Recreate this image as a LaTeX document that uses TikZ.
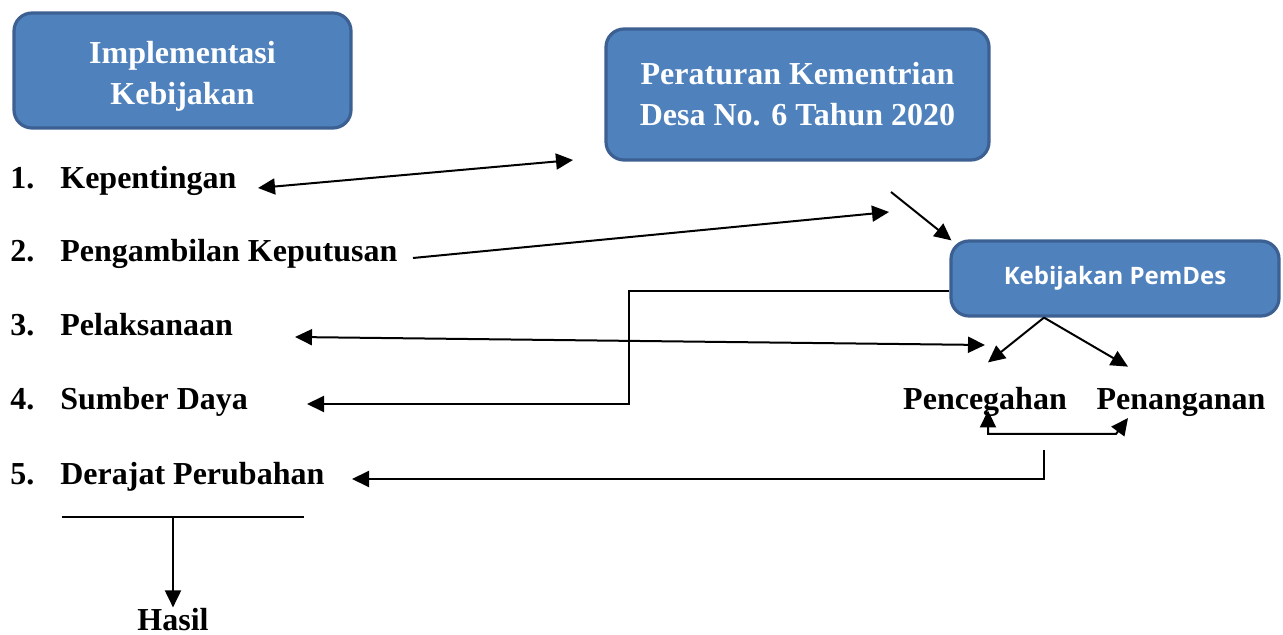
\documentclass[tikz,border=0pt]{standalone}
\usepackage{fontspec}
\setmainfont{Liberation Serif}
\newfontfamily\pemdesfont{Open Sans}
\usetikzlibrary{arrows.meta,calc}
\definecolor{boxfill}{HTML}{4F81BD}
\definecolor{boxline}{HTML}{3C6092}
\tikzset{
	bluebox/.style={draw=boxline,fill=boxfill,line width=1.6pt,rounded corners=9pt,
		text=white,align=center,inner sep=0pt,font=\fontsize{16}{20.5}\selectfont\bfseries},
	itemtext/.style={anchor=base west,inner sep=0pt,font=\fontsize{16}{20}\selectfont\bfseries},
	conn/.style={line width=1pt,-{Triangle[length=8.5pt,width=8pt]}},
	conntwo/.style={line width=1pt,{Triangle[length=8.5pt,width=8pt]}-{Triangle[length=8.5pt,width=8pt]}},
	plain/.style={line width=1pt}
}
\newcommand{\numitem}[2]{\makebox[25pt][l]{#1}#2}
\begin{document}
\begin{tikzpicture}[x=0.5pt,y=-0.5pt]
	\useasboundingbox (0,0) rectangle (1283,635);
	\node [bluebox,minimum width=168.5pt,minimum height=57.5pt] (implbox) at (182.5,70.5)
	{\rule{0pt}{17pt}Implementasi\\Kebijakan};
	\node [bluebox,minimum width=191.5pt,minimum height=65.5pt] (perbox) at (797.5,94.5)
	{Peraturan Kementrian\\Desa No. 6 Tahun 2020};
	\node [bluebox,minimum width=164pt,minimum height=37.5pt,font=\pemdesfont\fontsize{12}{14}\selectfont\bfseries] (pemdes) at (1115,278.5)
	{Kebijakan PemDes};

	\node [itemtext] (item1) at (10,189) {\numitem{1.}{Kepentingan}};
	\node [itemtext] (item2) at (10,262) {\numitem{2.}{Pengambilan Keputusan}};
	\node [itemtext] (item3) at (10,336) {\numitem{3.}{Pelaksanaan}};
	\node [itemtext] (item4) at (10,410) {\numitem{4.}{Sumber Daya}};
	\node [itemtext] (item5) at (10,484) {\numitem{5.}{Derajat Perubahan}};

	\node [itemtext,anchor=base] (pcg) at (985,410) {Pencegahan};
	\node [itemtext,anchor=base] (pnn) at (1181,410) {Penanganan};
	\node [itemtext,anchor=base] (hasil) at (173,630) {Hasil};

	\coordinate (kepleft) at (258,188);
	\coordinate (kepright) at (573,160);
	\coordinate (pengleft) at (413,258);
	\coordinate (pengright) at (889,212);
	\coordinate (perout) at (891,192);
	\coordinate (pelleft) at (295,337);
	\coordinate (pelright) at (985,345);
	\coordinate (sumleft) at (307,404);
	\coordinate (pemfoot) at ($(pemdes.south)+(-71,0)$);
	\coordinate (derleft) at (352,479);
	\coordinate (linkbase) at (1044,450);
	\coordinate (barleft) at (62,517);
	\coordinate (barright) at (304,517);
	\coordinate (barmid) at (173,517);

	\draw [conntwo] (kepleft) -- (kepright);
	\draw [conn] (pengleft) -- (pengright);
	\draw [conn] (perout) -- ($(pemdes.north west)+(2,1)$);
	\draw [conntwo] (pelleft) -- (pelright);
	\draw [conn] ($(pemdes.west)+(0,12.5)$) -| (629,404) -- (sumleft);
	\draw [conn] (pemfoot) -- ($(pcg.north)+(3,-25)$);
	\draw [conn] (pemfoot) -- ($(pnn.north)+(-53,-22)$);
	\draw [conntwo] ($(pcg.south)+(3,-7)$) |- (1116,434) -- (1128,418);
	\draw [conn] (linkbase) |- (derleft);
	\draw [plain] (barleft) -- (barright);
	\draw [conn] (barmid) -- (hasil.north);
\end{tikzpicture}
\end{document}
